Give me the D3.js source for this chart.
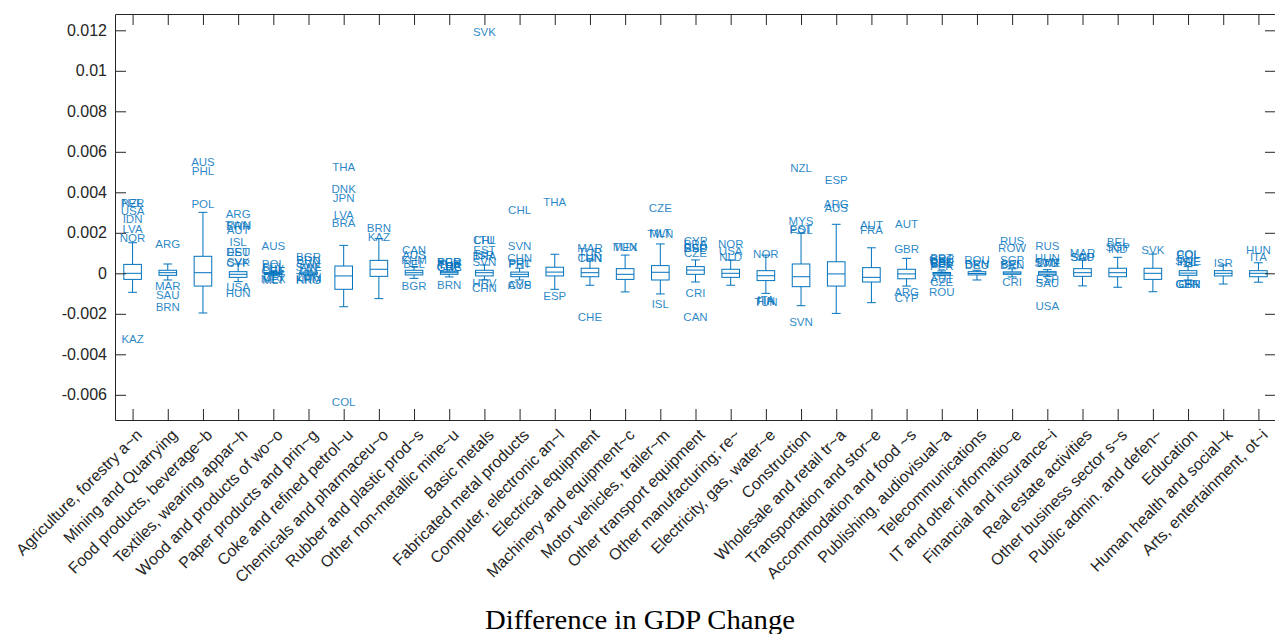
<!DOCTYPE html>
<html>
<head>
<meta charset="utf-8">
<script src="https://cdn.jsdelivr.net/npm/d3@7"></script>
<style>
  html, body { margin: 0; padding: 0; background: #fff; }
  svg { display: block; }
</style>
</head>
<body>
<svg id="chart" width="1275" height="634"></svg>
<script>
const categories = [
  "Agriculture, forestry a~n", "Mining and Quarrying", "Food products, beverage~b",
  "Textiles, wearing appar~h", "Wood and products of wo~o", "Paper products and prin~g",
  "Coke and refined petrol~u", "Chemicals and pharmaceu~o", "Rubber and plastic prod~s",
  "Other non-metallic mine~u", "Basic metals", "Fabricated metal products",
  "Computer, electronic an~l", "Electrical equipment", "Machinery and equipment~c",
  "Motor vehicles, trailer~m", "Other transport equipment", "Other manufacturing; re~",
  "Electricity, gas, water~e", "Construction", "Wholesale and retail tr~a",
  "Transportation and stor~e", "Accommodation and food ~s", "Publishing, audiovisual~a",
  "Telecommunications", "IT and other informatio~e", "Financial and insurance~i",
  "Real estate activities", "Other business sector s~s", "Public admin. and defen~",
  "Education", "Human health and social~k", "Arts, entertainment, ot~i"
];

const q1 = [-0.0003, -0.0001, -0.00063, -0.0002, -0.00005, -0.00005, -0.00079, -0.00015, -0.00008, -0.00005,
  -0.00013, -0.00017, -0.00013, -0.00017, -0.0003, -0.00033, -0.00005, -0.0002, -0.00036, -0.00066,
  -0.00063, -0.00043, -0.00027, -0.00008, -0.00008, -0.00005, -0.00007, -0.00015, -0.00017, -0.0003,
  -0.0001, -0.00013, -0.00017];
const medians = [0, 0.00003, 0.00003, -0.00005, 0, 0.00001, -0.00013, 0.0002, 0.00003, 0.00003,
  0.00003, -0.00005, 0.00006, 0.00003, -0.00005, 0.00005, 0.00016, 0, -0.00012, -0.00017,
  -0.00003, -0.0002, -0.00003, 0, -0.00001, 0.00001, 0.00002, 0.00003, 0.00003, 0,
  0.00001, 0, 0];
const q3 = [0.00044, 0.00015, 0.00084, 0.00008, 0.00003, 0.00006, 0.00036, 0.00064, 0.00015, 0.0001,
  0.00015, 0.00006, 0.0003, 0.00025, 0.00023, 0.00038, 0.00033, 0.0002, 0.00013, 0.00046,
  0.00057, 0.00028, 0.0002, 0.00004, 0.00008, 0.00007, 0.00008, 0.00023, 0.00025, 0.00025,
  0.00013, 0.00013, 0.00013];
const whiskerLow = [-0.00094, -0.00033, -0.00196, -0.00041, -0.00012, -0.00012, -0.00165, -0.00125, -0.00025, -0.00018,
  -0.00033, -0.00033, -0.00079, -0.00059, -0.00092, -0.00102, -0.00043, -0.00059, -0.00099, -0.0016,
  -0.00198, -0.00145, -0.00063, -0.00012, -0.00033, -0.00018, -0.00015, -0.00062, -0.00069, -0.00091,
  -0.00033, -0.00053, -0.00044];
const whiskerHigh = [0.00151, 0.00046, 0.00301, 0.00046, 0.0001, 0.00012, 0.00138, 0.00171, 0.00033, 0.00018,
  0.00041, 0.00025, 0.00094, 0.00066, 0.0009, 0.00145, 0.00066, 0.00066, 0.0009, 0.00198,
  0.00242, 0.00126, 0.00074, 0.00012, 0.00015, 0.00022, 0.00018, 0.00066, 0.00079, 0.00095,
  0.00033, 0.00041, 0.00052];

const outlierCategory = [
  0,0,0,0,0,0,0,
  1,1,1,1,
  2,2,2,
  3,3,3,3,3,3,3,3,3,3,3,
  4,4,4,4,4,4,4,4,
  5,5,5,5,5,5,5,5,
  6,6,6,6,6,6,
  7,7,
  8,8,8,8,8,
  9,9,9,9,9,9,9,
  10,10,10,10,10,10,10,10,10,
  11,11,11,11,11,11,11,
  12,12,
  13,13,13,13,13,
  14,14,
  15,15,15,15,
  16,16,16,16,16,16,16,
  17,17,17,
  18,18,18,18,
  19,19,19,19,19,
  20,20,20,
  21,21,
  22,22,22,22,
  23,23,23,23,23,23,23,23,23,23,
  24,24,24,
  25,25,25,25,25,25,
  26,26,26,26,26,26,26,26,
  27,27,27,
  28,28,28,
  29,
  30,30,30,30,30,30,30,30,
  31,
  32,32
];
const outlierLabel = [
  "NZL","PER","USA","IDN","LVA","NOR","KAZ",
  "ARG","MAR","SAU","BRN",
  "AUS","PHL","POL",
  "ARG","TWN","BRN","AUT","ISL","DEU","EST","SVK","CYP","USA","HUN",
  "AUS","POL","BEL","LUX","CHE","CRI","MEX","MLT",
  "BGR","BRN","SVN","SWE","FIN","TWN","KHM","HKG",
  "THA","DNK","JPN","LVA","BRA","COL",
  "BRN","KAZ",
  "CAN","AUS","KHM","BEL","BGR",
  "PER","BGR","TUR","THA","CHE","GRC","BRN",
  "SVK","CHL","LTU","EST","ISR","BRA","SVN","HRV","CHN",
  "CHL","SVN","CHN","PHL","PRT","AUS","CYP",
  "THA","ESP",
  "MAR","TUR","TUN","CHN","CHE",
  "MEX","TUN",
  "CZE","MLT","TWN","ISL",
  "CYP","BRA","ESP","DEU","CZE","CRI","CAN",
  "NOR","USA","NLD",
  "NOR","ITA","FIN","TUN",
  "NZL","MYS","EST","POL","SVN",
  "ESP","ARG","AUS",
  "AUT","FRA",
  "AUT","GBR","ARG","CYP",
  "PRT","GRC","DEU","CHE","EST","BEL","PER","AUT","CZE","ROU",
  "ROU","BRN","DEU",
  "RUS","ROW","SGP","BEL","BRN","CRI",
  "RUS","HUN","SVN","SWE","LTU","ESP","SAU","USA",
  "MAR","SGP","SAU",
  "BEL","SGP","IND",
  "SVK",
  "COL","POL","SWE","ISL","PHL","GBR","CRI","CHN",
  "ISR",
  "HUN","ITA"
];
const outlierValue = [
  0.00346, 0.00346, 0.00308, 0.00267, 0.0022, 0.00174, -0.00324,
  0.00143, -0.00061, -0.00107, -0.00165,
  0.00548, 0.00507, 0.00342,
  0.00292, 0.00239, 0.00235, 0.00213, 0.00156, 0.00108, 0.00105, 0.00056, 0.00051, -0.00066, -0.00099,
  0.00135, 0.00049, 0.00033, 0.00024, 0.00012, -0.00018, -0.00028, -0.00032,
  0.00082, 0.00064, 0.00049, 0.00033, 0.00028, -0.00017, -0.00028, -0.00033,
  0.00526, 0.00418, 0.00375, 0.00291, 0.0025, -0.00636,
  0.00224, 0.00179,
  0.00114, 0.0009, 0.00067, 0.00049, -0.00063,
  0.00057, 0.00055, 0.00045, 0.00042, 0.00033, 0.0003, -0.00058,
  0.0119, 0.00164, 0.00164, 0.00118, 0.0009, 0.00088, 0.00056, -0.00048, -0.0007,
  0.00313, 0.00135, 0.00078, 0.00052, 0.00048, -0.00056, -0.00058,
  0.00352, -0.0011,
  0.00126, 0.00104, 0.00076, 0.00074, -0.00217,
  0.00131, 0.00131,
  0.00321, 0.00202, 0.00194, -0.00152,
  0.0016, 0.00145, 0.00126, 0.00124, 0.00099, -0.00099, -0.00214,
  0.00143, 0.0011, 0.00079,
  0.00095, -0.0013, -0.00136, -0.0014,
  0.00521, 0.00258, 0.00219, 0.00216, -0.00242,
  0.00461, 0.00342, 0.00324,
  0.00239, 0.00214,
  0.00243, 0.0012, -0.00094, -0.00123,
  0.00078, 0.0007, 0.00062, 0.00058, 0.00052, 0.00045, 0.00035, -0.00025, -0.00044, -0.00091,
  0.00066, 0.00046, 0.00043,
  0.0016, 0.00125, 0.00066, 0.00046, 0.00044, -0.00044,
  0.00136, 0.00074, 0.00055, 0.00052, 0.00051, -0.00027, -0.00046, -0.00161,
  0.00102, 0.00082, 0.00079,
  0.00156, 0.00132, 0.00123,
  0.00115,
  0.00094, 0.00092, 0.00062, 0.00058, 0.00055, -0.00053, -0.00053, -0.00052,
  0.00054,
  0.00115, 0.00079
];

const yTickValues = [-0.006, -0.004, -0.002, 0, 0.002, 0.004, 0.006, 0.008, 0.01, 0.012];
const yTickLabels = ["-0.006", "-0.004", "-0.002", "0", "0.002", "0.004", "0.006", "0.008", "0.01", "0.012"];
const titleText = "Difference in GDP Change";

// ---- layout ----
const plotLeft = 115, plotRight = 1276, plotTop = 14, plotBottom = 420;
const axisColor = "#262626";
const boxColor = "#0072BD";

const svg = d3.select("#chart");

const x = d3.scalePoint().domain(categories).range([plotLeft, plotRight]).padding(0.5);
const step = x.step();
const y = d3.scaleLinear().domain([-0.007244, 0.012805]).range([plotBottom, plotTop]);

const boxW = step * 0.5;
const capW = step * 0.25;

// boxes
const g = svg.append("g").attr("fill", "none").attr("stroke", boxColor).attr("stroke-width", 1);
categories.forEach((c, i) => {
  const cx = x(c);
  const gi = g.append("g");
  gi.append("line").attr("x1", cx).attr("x2", cx).attr("y1", y(q3[i])).attr("y2", y(whiskerHigh[i]));
  gi.append("line").attr("x1", cx).attr("x2", cx).attr("y1", y(q1[i])).attr("y2", y(whiskerLow[i]));
  gi.append("line").attr("x1", cx - capW / 2).attr("x2", cx + capW / 2).attr("y1", y(whiskerHigh[i])).attr("y2", y(whiskerHigh[i]));
  gi.append("line").attr("x1", cx - capW / 2).attr("x2", cx + capW / 2).attr("y1", y(whiskerLow[i])).attr("y2", y(whiskerLow[i]));
  gi.append("rect").attr("x", cx - boxW / 2).attr("width", boxW)
    .attr("y", y(q3[i])).attr("height", Math.max(0.5, y(q1[i]) - y(q3[i])));
  gi.append("line").attr("x1", cx - boxW / 2).attr("x2", cx + boxW / 2).attr("y1", y(medians[i])).attr("y2", y(medians[i]));
});

// outlier labels
svg.append("g").selectAll("text").data(outlierLabel).join("text")
  .attr("x", (d, i) => x(categories[outlierCategory[i]]))
  .attr("y", (d, i) => y(outlierValue[i]))
  .attr("dy", "0.36em")
  .attr("text-anchor", "middle")
  .attr("fill", boxColor)
  .attr("fill-opacity", 0.85)
  .style("font-family", "'Liberation Sans', Arial, Helvetica, sans-serif")
  .style("font-size", "11.5px")
  .text(d => d);

// axes
const fontFam = "'Liberation Sans', Arial, Helvetica, sans-serif";
const tickLen = 11;

const yAxis = svg.append("g").attr("transform", `translate(${plotLeft},0)`)
  .call(d3.axisLeft(y).tickValues(yTickValues).tickFormat((d, i) => yTickLabels[i])
    .tickSizeInner(-tickLen).tickSizeOuter(0).tickPadding(8));
const yAxisR = svg.append("g").attr("transform", `translate(${plotRight},0)`)
  .call(d3.axisRight(y).tickValues(yTickValues).tickFormat("")
    .tickSizeInner(-tickLen).tickSizeOuter(0));
const xAxisTop = svg.append("g").attr("transform", `translate(0,${plotTop})`)
  .call(d3.axisTop(x).tickFormat("").tickSizeInner(-tickLen).tickSizeOuter(0));
const xAxis = svg.append("g").attr("transform", `translate(0,${plotBottom})`)
  .call(d3.axisBottom(x).tickSizeInner(-tickLen).tickSizeOuter(0));

[yAxis, yAxisR, xAxisTop, xAxis].forEach(a => {
  a.selectAll("path.domain").attr("stroke", axisColor);
  a.selectAll(".tick line").attr("stroke", axisColor);
  a.selectAll("text").attr("fill", axisColor).style("font-family", fontFam);
});
yAxis.selectAll("text").style("font-size", "16px");
xAxis.selectAll("text")
  .style("font-size", "16px")
  .attr("text-anchor", "end")
  .attr("x", 0).attr("y", 0).attr("dy", "0.35em")
  .attr("transform", "translate(6,12) rotate(-45)");

// title
svg.append("text")
  .attr("x", 640).attr("y", 629)
  .attr("text-anchor", "middle")
  .attr("fill", "#000")
  .attr("textLength", 310)
  .attr("lengthAdjust", "spacingAndGlyphs")
  .style("font-family", "'Liberation Serif', 'Times New Roman', serif")
  .style("font-size", "27px")
  .text(titleText);
</script>
</body>
</html>
